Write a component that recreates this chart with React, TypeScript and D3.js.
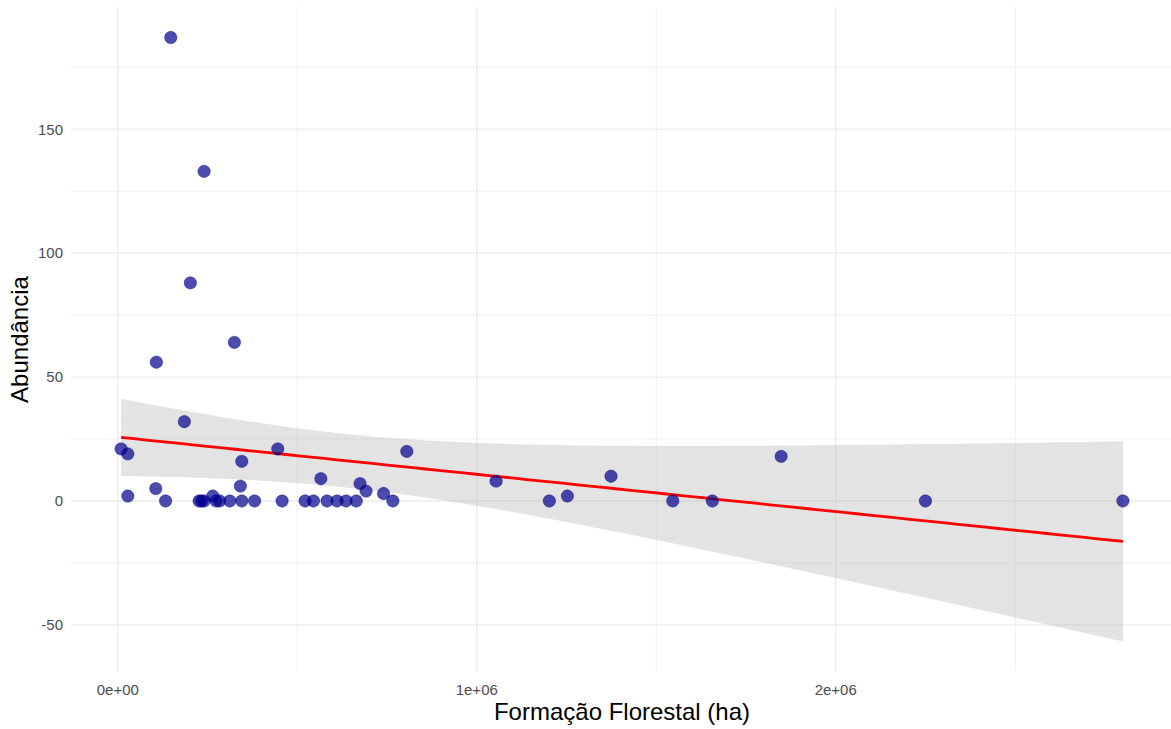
import React from "react";
import * as d3 from "d3";

// Forest formation area (ha) and species abundance for each sampled municipality
const forestAreaHa = [
  147600, 240400, 202200, 324800, 107500, 185500, 9200, 27900, 445700, 805000,
  345400, 1848000, 1374000, 565700, 1053800, 674900, 341500, 105800, 691600, 740400,
  27900, 264600, 1252400,
  133100, 226500, 233400, 240400, 273800, 283600, 312000, 345400, 381100, 457700,
  521700, 545100, 583000, 610900, 635900, 664300, 766300, 1202200, 1546000, 1656300,
  2249900, 2800000,
];
const abundance = [
  187, 133, 88, 64, 56, 32, 21, 19, 21, 20,
  16, 18, 10, 9, 8, 7, 6, 5, 4, 3,
  2, 2, 2,
  0, 0, 0, 0, 0, 0, 0, 0, 0, 0,
  0, 0, 0, 0, 0, 0, 0, 0, 0, 0,
  0, 0,
];

const xMajorTicks = [0, 1e6, 2e6];
const xMinorTicks = [5e5, 1.5e6, 2.5e6];
const xTickLabels = ["0e+00", "1e+06", "2e+06"];
const yMajorTicks = [-50, 0, 50, 100, 150];
const yMinorTicks = [-25, 25, 75, 125, 175];
const yTickLabels = ["-50", "0", "50", "100", "150"];

const xTitle = "Formação Florestal (ha)";
const yTitle = "Abundância";

const WIDTH = 1171;
const HEIGHT = 729;
const panel = { left: 71, right: 1173, top: 7.3, bottom: 671.7 };
const FONT = "'Liberation Sans', Arial, Helvetica, sans-serif";

// 97.5% quantile of Student's t (Cornish-Fisher expansion around the normal quantile)
function tQuantile975(df: number): number {
  const z = 1.959964;
  const z3 = z ** 3, z5 = z ** 5, z7 = z ** 7;
  const g1 = (z3 + z) / 4;
  const g2 = (5 * z5 + 16 * z3 + 3 * z) / 96;
  const g3 = (3 * z7 + 19 * z5 + 17 * z3 - 15 * z) / 384;
  return z + g1 / df + g2 / df ** 2 + g3 / df ** 3;
}

// Ordinary least squares fit with a 95% confidence band, evaluated on 80 points
function linearFit(xs: number[], ys: number[]) {
  const n = xs.length;
  const xbar = d3.mean(xs) as number;
  const ybar = d3.mean(ys) as number;
  let sxx = 0, sxy = 0;
  xs.forEach((x, i) => {
    sxx += (x - xbar) ** 2;
    sxy += (x - xbar) * (ys[i] - ybar);
  });
  const slope = sxy / sxx;
  const intercept = ybar - slope * xbar;
  let sse = 0;
  xs.forEach((x, i) => {
    sse += (ys[i] - (intercept + slope * x)) ** 2;
  });
  const s = Math.sqrt(sse / (n - 2));
  const t = tQuantile975(n - 2);
  const [x0, x1] = d3.extent(xs) as [number, number];
  return d3.range(80).map((k) => {
    const x = x0 + ((x1 - x0) * k) / 79;
    const fit = intercept + slope * x;
    const se = s * Math.sqrt(1 / n + (x - xbar) ** 2 / sxx);
    return { x, fit, lo: fit - t * se, hi: fit + t * se };
  });
}

function expand(ext: [number, number], mult = 0.05): [number, number] {
  const r = ext[1] - ext[0];
  return [ext[0] - r * mult, ext[1] + r * mult];
}

export default function App() {
  const band = linearFit(forestAreaHa, abundance);

  const xExt = d3.extent(forestAreaHa) as [number, number];
  const yExt: [number, number] = [
    Math.min(d3.min(abundance) as number, d3.min(band, (d) => d.lo) as number),
    Math.max(d3.max(abundance) as number, d3.max(band, (d) => d.hi) as number),
  ];

  const x = d3.scaleLinear().domain(expand(xExt)).range([panel.left, panel.right]);
  const y = d3.scaleLinear().domain(expand(yExt)).range([panel.bottom, panel.top]);

  const ribbon = d3
    .area<{ x: number; lo: number; hi: number }>()
    .x((d) => x(d.x))
    .y0((d) => y(d.lo))
    .y1((d) => y(d.hi))(band) as string;

  const fitLine = d3
    .line<{ x: number; fit: number }>()
    .x((d) => x(d.x))
    .y((d) => y(d.fit))(band) as string;

  const gridColor = "#EBEBEB";
  const centerX = (panel.left + panel.right) / 2;
  const centerY = (panel.top + panel.bottom) / 2;

  return (
    <svg
      width={WIDTH}
      height={HEIGHT}
      style={{ position: "absolute", left: 0, top: 0, background: "#fff" }}
      fontFamily={FONT}
    >
      <rect x={0} y={0} width={WIDTH} height={HEIGHT} fill="#fff" />

      {/* minor grid */}
      {yMinorTicks.map((v) => (
        <line key={`ym${v}`} x1={panel.left} x2={panel.right} y1={y(v)} y2={y(v)} stroke={gridColor} strokeWidth={0.8} />
      ))}
      {xMinorTicks.map((v) => (
        <line key={`xm${v}`} x1={x(v)} x2={x(v)} y1={panel.top} y2={panel.bottom} stroke={gridColor} strokeWidth={0.8} />
      ))}
      {/* major grid */}
      {yMajorTicks.map((v) => (
        <line key={`yM${v}`} x1={panel.left} x2={panel.right} y1={y(v)} y2={y(v)} stroke={gridColor} strokeWidth={1.3} />
      ))}
      {xMajorTicks.map((v) => (
        <line key={`xM${v}`} x1={x(v)} x2={x(v)} y1={panel.top} y2={panel.bottom} stroke={gridColor} strokeWidth={1.3} />
      ))}

      {/* confidence band and fitted line */}
      <path d={ribbon} fill="#BDBDBD" fillOpacity={0.42} />
      <path d={fitLine} fill="none" stroke="#FF0000" strokeWidth={2.8} />

      {/* observations */}
      {forestAreaHa.map((v, i) => (
        <circle
          key={`p${i}`}
          cx={x(v)}
          cy={y(abundance[i])}
          r={6.2}
          fill="#00008B"
          fillOpacity={0.7}
          stroke="#00008B"
          strokeOpacity={0.5}
          strokeWidth={0.8}
        />
      ))}

      {/* axis tick labels */}
      {yMajorTicks.map((v, i) => (
        <text key={`yl${v}`} x={63} y={y(v) + 5.3} textAnchor="end" fontSize={15} fill="#4D4D4D">
          {yTickLabels[i]}
        </text>
      ))}
      {xMajorTicks.map((v, i) => (
        <text key={`xl${v}`} x={x(v)} y={695} textAnchor="middle" fontSize={15} fill="#4D4D4D">
          {xTickLabels[i]}
        </text>
      ))}

      {/* axis titles */}
      <text x={centerX} y={719.5} textAnchor="middle" fontSize={24} fill="#000">
        {xTitle}
      </text>
      <text
        transform={`translate(${27.5},${centerY}) rotate(-90)`}
        textAnchor="middle"
        fontSize={24}
        fill="#000"
      >
        {yTitle}
      </text>
    </svg>
  );
}
